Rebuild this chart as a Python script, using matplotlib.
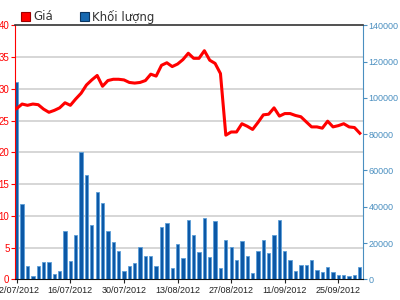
import numpy as np
import matplotlib
matplotlib.use("Agg")
import matplotlib.pyplot as plt
from matplotlib.ticker import MultipleLocator
from matplotlib.patches import Rectangle

# Giá (nghìn đồng) - trục trái
gia = [26.9, 27.6, 27.4, 27.6, 27.5, 26.8, 26.3, 26.6, 27.0, 27.8,
       27.4, 28.4, 29.3, 30.6, 31.4, 32.1, 30.4, 31.3, 31.5, 31.5,
       31.4, 31.0, 30.9, 31.0, 31.3, 32.3, 32.0, 33.7, 34.1, 33.5,
       33.9, 34.6, 35.6, 34.8, 34.8, 36.0, 34.5, 34.0, 32.4, 22.7,
       23.2, 23.2, 24.5, 24.1, 23.6, 24.7, 25.9, 26.0, 27.0, 25.7,
       26.1, 26.1, 25.8, 25.6, 24.8, 24.0, 24.0, 23.8, 24.9, 24.0,
       24.2, 24.5, 24.0, 23.9, 23.0]

# Khối lượng - trục phải
khoi_luong = [108500, 41300, 7400, 1800, 7400, 9500, 9500, 2800, 4600, 26600,
              10200, 24200, 70000, 57400, 29800, 48000, 42000, 26600, 20300, 15800,
              4600, 7400, 9100, 17900, 13000, 13000, 7400, 29100, 30800, 6300,
              19600, 11900, 32600, 24500, 15100, 33600, 12300, 32200, 6300, 21700,
              17900, 10900, 21000, 13000, 3500, 15800, 21700, 14700, 24200, 32600,
              15800, 10500, 4700, 7700, 7700, 10900, 4900, 3900, 6700, 4200,
              2500, 2500, 1800, 2500, 6700]

ngay = ["02/07/2012", "16/07/2012", "30/07/2012", "13/08/2012",
        "27/08/2012", "11/09/2012", "25/09/2012"]

RED = "#ff0000"
BLUE_AX = "#4a8fc0"

plt.rcParams['font.family'] = ['Liberation Sans', 'DejaVu Sans']

fig = plt.figure(figsize=(4, 3), dpi=100)
ax = fig.add_axes([15 / 400, 20.7 / 300, 347.5 / 400, 254 / 300])
ax2 = ax.twinx()
ax.set_zorder(ax2.get_zorder() + 1)
ax.patch.set_visible(False)

x = np.arange(len(gia))

# --- cột khối lượng ---
ax2.bar(x, khoi_luong, width=0.62, color="#0c58a6", edgecolor="#5c9fd8", linewidth=0.6)
ax2.set_ylim(0, 140000)
ax2.set_yticks(range(0, 140001, 20000))
ax2.yaxis.set_minor_locator(MultipleLocator(17500))
ax2.grid(which='minor', axis='y', color='#d0d0d0', linewidth=1.2)
ax2.set_axisbelow(True)
ax2.tick_params(which='minor', length=0)
ax2.tick_params(axis='y', which='major', colors=BLUE_AX, labelsize=6.5, length=3, width=0.8, pad=1.5)
for s in ['left', 'top', 'bottom']:
    ax2.spines[s].set_visible(False)
ax2.spines['right'].set_color(BLUE_AX)

# --- đường giá ---
ax.plot(x, gia, color=RED, linewidth=2.2, solid_joinstyle='round')
ax.set_ylim(0, 40)
ax.set_yticks(range(0, 41, 5))
ax.set_xlim(-0.33, 64.5)
ax.set_xticks(range(0, len(gia), 10))
ax.set_xticklabels(ngay)
ax.tick_params(axis='y', colors=RED, labelsize=7, length=3, width=0.8, pad=1)
ax.tick_params(axis='x', colors='#222222', labelsize=6.5, length=3, width=0.8, pad=2)
ax.spines['left'].set_color(RED)
ax.spines['right'].set_visible(False)
ax.spines['top'].set_color('#333333')
ax.spines['top'].set_linewidth(1.2)
ax.spines['bottom'].set_color('#111111')

# --- chú giải ---
fig.patches.append(Rectangle((21 / 400, 279 / 300), 9 / 400, 9 / 300, transform=fig.transFigure,
                             facecolor=RED, edgecolor="#a00000", linewidth=0.8))
fig.text(33 / 400, 283.5 / 300, "Giá", fontsize=8.5, va='center', color='#333333', family='DejaVu Sans')
fig.patches.append(Rectangle((80 / 400, 279 / 300), 9 / 400, 9 / 300, transform=fig.transFigure,
                             facecolor="#1668b0", edgecolor="#0a3560", linewidth=0.8))
fig.text(92 / 400, 283.5 / 300, "Khối lượng", fontsize=8.5, va='center', color='#333333', family='DejaVu Sans')

fig.savefig("out.png", dpi=100)
